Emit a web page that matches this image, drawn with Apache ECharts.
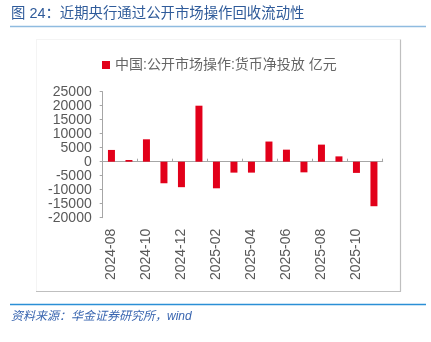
<!DOCTYPE html>
<html>
<head>
<meta charset="utf-8">
<script src="https://cdn.jsdelivr.net/npm/echarts@6/dist/echarts.min.js"></script>
<style>html,body{margin:0;padding:0;background:#fff}#c{width:431px;height:342px}</style>
</head>
<body>
<div id="c"></div>
<script>
var categories = ['2024-08','2024-09','2024-10','2024-11','2024-12','2025-01','2025-02','2025-03','2025-04','2025-05','2025-06','2025-07','2025-08','2025-09','2025-10','2025-11'];
var netInjection = [4200, 600, 8000, -7700, -9100, 20000, -9500, -3900, -3900, 7200, 4300, -3800, 6100, 1900, -4000, -15900];
var seriesName = '中国:公开市场操作:货币净投放 亿元';
var titleText = '图 24：近期央行通过公开市场操作回收流动性';
var sourceText = '资料来源：华金证券研究所，wind';

var chart = echarts.init(document.getElementById('c'), null, {renderer: 'canvas'});
var font = 'Arial, "Liberation Sans", "Noto Sans CJK SC", sans-serif';
chart.setOption({
  animation: false,
  textStyle: {fontFamily: font},
  legend: {
    left: 97, top: 53,
    itemWidth: 8, itemHeight: 8, itemGap: 10,
    icon: 'rect',
    textStyle: {color: '#666666', fontSize: 14, fontFamily: font},
    data: [seriesName]
  },
  grid: {left: 102.7, right: 48.3, top: 91.7, bottom: 124.3, containLabel: false},
  xAxis: [{
    type: 'category', data: categories, position: 'bottom',
    axisLine: {show: false, onZero: false},
    axisTick: {show: false},
    axisLabel: {rotate: 90, interval: 1, margin: 11, color: '#595959', fontSize: 14, fontFamily: font}
  }, {
    type: 'category', data: categories,
    axisLine: {show: true, onZero: true, lineStyle: {color: '#a6a6a6', width: 1}},
    axisTick: {show: true, interval: 1, inside: false, length: 3, lineStyle: {color: '#a6a6a6'}},
    axisLabel: {show: false}
  }],
  yAxis: {
    type: 'value', min: -20000, max: 25000, interval: 5000,
    axisLine: {show: true, lineStyle: {color: '#a6a6a6'}},
    axisTick: {show: true, length: 3, lineStyle: {color: '#a6a6a6'}},
    splitLine: {show: false},
    axisLabel: {margin: 11, color: '#595959', fontSize: 14, fontFamily: font,
      formatter: function (v) { return String(v); }}
  },
  series: [{
    name: seriesName, type: 'bar', xAxisIndex: 0,
    data: netInjection, barWidth: 7,
    itemStyle: {color: '#E2001A'}
  }],
  graphic: [
    {type: 'text', left: 11, top: 7, style: {text: titleText, fill: '#2f5b9a', font: '14.4px ' + font}},
    {type: 'line', shape: {x1: 10, y1: 26.5, x2: 426, y2: 26.5}, style: {stroke: '#8fbbe0', lineWidth: 1.5}},
    {type: 'line', shape: {x1: 36, y1: 39.5, x2: 400, y2: 39.5}, style: {stroke: '#f4f4f4', lineWidth: 1}},
    {type: 'line', shape: {x1: 36.5, y1: 39.5, x2: 36.5, y2: 291}, style: {stroke: '#f4f4f4', lineWidth: 1}},
    {type: 'line', shape: {x1: 400.5, y1: 39.5, x2: 400.5, y2: 291.5}, style: {stroke: '#bfbfbf', lineWidth: 1.2}},
    {type: 'line', shape: {x1: 36, y1: 291.5, x2: 401, y2: 291.5}, style: {stroke: '#bfbfbf', lineWidth: 1.2}},
    {type: 'line', shape: {x1: 10, y1: 304.5, x2: 426, y2: 304.5}, style: {stroke: '#2b8fd6', lineWidth: 1.5}},
    {type: 'text', left: 11, top: 311, style: {text: sourceText, fill: '#3a66b0', font: 'italic 12px ' + font}}
  ]
});
</script>
</body>
</html>
